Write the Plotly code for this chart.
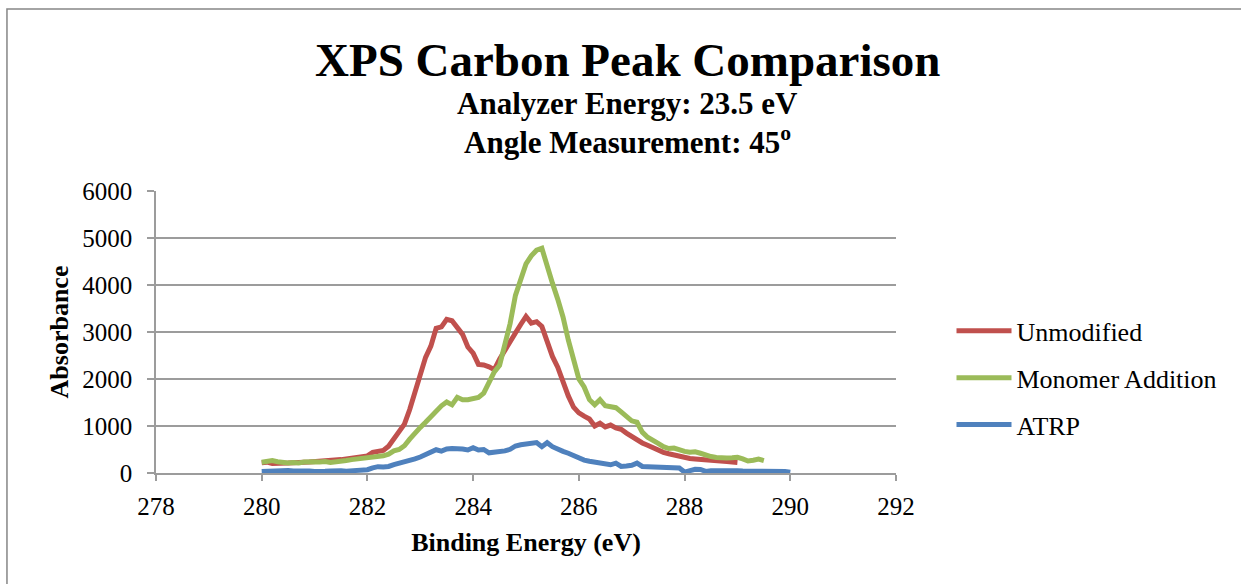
import plotly.graph_objects as go

# binding energy grid (eV), shared by the three scans
energy = [
    280.0, 280.1, 280.2, 280.3, 280.4, 280.5, 280.6, 280.7, 280.8, 280.9,
    281.0, 281.1, 281.2, 281.3, 281.4, 281.5, 281.6, 281.7, 281.8, 281.9,
    282.0, 282.1, 282.2, 282.3, 282.4, 282.5, 282.6, 282.7, 282.8, 282.9,
    283.0, 283.1, 283.2, 283.3, 283.4, 283.5, 283.6, 283.7, 283.8, 283.9,
    284.0, 284.1, 284.2, 284.3, 284.4, 284.5, 284.6, 284.7, 284.8, 284.9,
    285.0, 285.1, 285.2, 285.3, 285.4, 285.5, 285.6, 285.7, 285.8, 285.9,
    286.0, 286.1, 286.2, 286.3, 286.4, 286.5, 286.6, 286.7, 286.8, 286.9,
    287.0, 287.1, 287.2, 287.3, 287.4, 287.5, 287.6, 287.7, 287.8, 287.9,
    288.0, 288.1, 288.2, 288.3, 288.4, 288.5, 288.6, 288.7, 288.8, 288.9,
    289.0, 289.1, 289.2, 289.3, 289.4, 289.5, 289.6, 289.7, 289.8, 289.9,
    290.0,
]

unmodified = [
    220, 230, 200, 195, 205, 212, 220, 215, 230, 235,
    240, 245, 250, 265, 280, 285, 300, 320, 335, 350,
    365, 440, 465, 480, 570, 740, 880, 1040, 1350, 1720,
    2050, 2460, 2700, 3080, 3110, 3270, 3240, 3110, 2950, 2680,
    2550, 2310, 2300, 2260, 2200, 2420, 2620, 2800, 2980, 3160,
    3330, 3190, 3220, 3120, 2760, 2480, 2250, 1930, 1640, 1400,
    1280, 1210, 1150, 1000, 1060, 980, 1020, 960, 930, 850,
    770, 700, 640, 590, 535, 480, 440, 410, 385, 360,
    320, 310, 300, 295, 280, 270, 262, 255, 245, 235,
    225,
]

monomer = [
    230, 250, 265, 240, 220, 212, 225, 215, 235, 225,
    240, 235, 245, 225, 230, 240, 265, 285, 300, 305,
    310, 320, 340, 365, 400, 470, 500, 580, 720, 860,
    970, 1080, 1200, 1320, 1430, 1510, 1450, 1610, 1560, 1560,
    1590, 1610, 1700, 1900, 2150, 2290, 2720, 3180, 3780, 4160,
    4450, 4620, 4740, 4780, 4380, 4040, 3700, 3320, 2830, 2450,
    2000, 1830, 1560, 1450, 1560, 1430, 1410, 1390, 1300, 1200,
    1110, 1080, 870, 760, 680, 630, 560, 520, 530, 490,
    460, 440, 450, 420, 380, 350, 330, 315, 320, 325,
    335, 300, 255, 270, 295, 265,
]

atrp = [
    30, 40, 35, 45, 50, 55, 45, 50, 55, 40,
    30, 20, 35, 45, 55, 50, 40, 45, 50, 60,
    70, 110, 135, 130, 140, 180, 210, 230, 250, 300,
    340, 390, 440, 495, 465, 510, 520, 525, 510, 490,
    540, 490, 500, 430, 440, 460, 470, 505, 575, 600,
    615, 630, 648, 560, 645, 560, 500, 460, 420, 370,
    320, 275, 250, 225, 212, 190, 175, 210, 140, 150,
    165, 210, 140, 135, 127, 125, 120, 115, 110, 105,
    20, 60, 80, 75, 35, 50, 55, 50, 55, 55,
    50, 45, 45, 40, 40, 35, 35, 35, 35, 30,
    15,
]

series = [
    ("Unmodified", unmodified, "#C0504D"),
    ("Monomer Addition", monomer, "#9BBB59"),
    ("ATRP", atrp, "#4F81BD"),
]

SERIF = "Liberation Serif, Times New Roman, serif"
GRID = "#9C9C9C"

fig = go.Figure()
for name, vals, color in series:
    fig.add_trace(go.Scatter(
        x=energy[:len(vals)], y=vals, name=name, mode="lines",
        legendgroup=name, line=dict(color=color, width=5),
    ))

# title block: three centred lines of different size
titles = [
    ("<b>XPS Carbon Peak Comparison</b>", 1.464, 47),
    ("<b>Analyzer Energy: 23.5 eV</b>", 1.312, 31),
    ("<b>Angle Measurement: 45<sup>o</sup></b>", 1.180, 31),
]
for txt, ypos, size in titles:
    fig.add_annotation(text=txt, x=0.637, y=ypos, xref="paper", yref="paper",
                       xanchor="center", yanchor="middle", showarrow=False,
                       font=dict(family=SERIF, size=size, color="black"))

# outer chart frame (only top and left edges fall inside the picture)
fig.add_shape(type="rect", xref="paper", yref="paper",
              x0=-0.2014, x1=1.6, y0=-0.6, y1=1.645,
              line=dict(color="#868686", width=1.5))

fig.update_xaxes(
    range=[278, 292], dtick=2, showgrid=False, zeroline=False,
    showline=True, linecolor=GRID, linewidth=1.5,
    ticks="outside", ticklen=6, tickcolor=GRID, tickwidth=1.5,
    ticklabelstandoff=4,
    tickfont=dict(family=SERIF, size=25, color="black"),
    title=dict(text="<b>Binding Energy (eV)</b>", standoff=14,
               font=dict(family=SERIF, size=26, color="black")),
)
fig.update_yaxes(
    range=[0, 6000], dtick=1000, showgrid=True, gridcolor=GRID, gridwidth=1.5,
    zeroline=False, showline=True, linecolor=GRID, linewidth=1.5,
    ticks="outside", ticklen=7, tickcolor=GRID, tickwidth=1.5,
    ticklabelstandoff=10,
    tickfont=dict(family=SERIF, size=25, color="black"),
    title=dict(text="<b>Absorbance</b>", standoff=6,
               font=dict(family=SERIF, size=26, color="black")),
)

fig.update_layout(
    width=1241, height=584,
    margin=dict(l=156, r=345, t=191, b=111, autoexpand=False),
    paper_bgcolor="white", plot_bgcolor="white",
    showlegend=True,
    legend=dict(x=1.075, y=0.337, xanchor="left", yanchor="middle",
                font=dict(family=SERIF, size=26, color="black"),
                tracegroupgap=10, traceorder="grouped", itemwidth=55,
                bgcolor="rgba(0,0,0,0)"),
)

fig.write_html("out.html", config={"displayModeBar": False},
               post_script="document.body.style.margin='0';")
